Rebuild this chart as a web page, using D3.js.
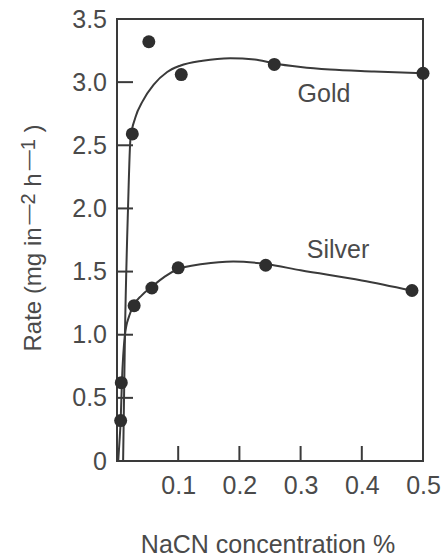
<!DOCTYPE html>
<html>
<head>
<meta charset="utf-8">
<script src="https://cdn.jsdelivr.net/npm/d3@7"></script>
<style>
  body { margin: 0; background: #fff; }
  text { font-family: "Liberation Sans", Arial, sans-serif; fill: #4a4a4a; }
</style>
</head>
<body>
<div id="chart"></div>
<script>
// measured points
let goldX = [0.025, 0.052, 0.105, 0.257, 0.5];
let goldY = [2.59, 3.32, 3.06, 3.14, 3.07];
let silverX = [0.006, 0.007, 0.028, 0.057, 0.10, 0.243, 0.482];
let silverY = [0.32, 0.62, 1.23, 1.37, 1.53, 1.55, 1.35];

// hand drawn smooth curves
let goldCurveX = [0.010, 0.013, 0.018, 0.022, 0.030, 0.042, 0.060, 0.082, 0.103, 0.140, 0.185, 0.225, 0.255, 0.300, 0.348, 0.420, 0.5];
let goldCurveY = [0.0, 1.0, 2.0, 2.55, 2.72, 2.85, 2.98, 3.08, 3.13, 3.17, 3.19, 3.18, 3.15, 3.12, 3.10, 3.085, 3.07];
let silverCurveX = [0.002, 0.004, 0.006, 0.008, 0.013, 0.020, 0.028, 0.040, 0.057, 0.078, 0.100, 0.140, 0.190, 0.243, 0.300, 0.400, 0.482];
let silverCurveY = [0.0, 0.15, 0.32, 0.62, 1.0, 1.15, 1.24, 1.31, 1.38, 1.46, 1.52, 1.56, 1.58, 1.56, 1.51, 1.43, 1.35];

let yTicks = [0, 0.5, 1.0, 1.5, 2.0, 2.5, 3.0, 3.5];
let yTickLabels = ["0", "0.5", "1.0", "1.5", "2.0", "2.5", "3.0", "3.5"];
let xTicks = [0.1, 0.2, 0.3, 0.4, 0.5];
let xTickLabels = ["0.1", "0.2", "0.3", "0.4", "0.5"];

let W = 446, H = 557;
let margin = ({top: 19, right: 23, bottom: 96, left: 117});
let width = W - margin.left - margin.right;
let height = H - margin.top - margin.bottom;
let ink = "#3a3a3a";

let svg = d3.select('#chart')
    .append('svg')
        .attr("width", W)
        .attr("height", H)
    .append('g')
        .attr("transform", "translate(" + margin.left + "," + margin.top + ")");

let x = d3.scaleLinear().domain([0, 0.5]).range([0, width]);
let y = d3.scaleLinear().domain([0, 3.5]).range([height, 0]);

//y axis labels (tick marks drawn inside the frame below)
let yaxis = svg.append('g')
    .call(d3.axisLeft(y).tickValues(yTicks).tickSize(0).tickPadding(10)
        .tickFormat((d, i) => yTickLabels[i]));
yaxis.select(".domain").remove();
yaxis.selectAll(".tick text").attr("font-size", 25).attr("fill", "#4a4a4a")
    .attr("font-family", "Liberation Sans, Arial, sans-serif");

//x axis labels
let xaxis = svg.append('g')
    .attr("transform", "translate(0," + height + ")")
    .call(d3.axisBottom(x).tickValues(xTicks).tickSize(0).tickPadding(15)
        .tickFormat((d, i) => xTickLabels[i]));
xaxis.select(".domain").remove();
xaxis.selectAll(".tick text").attr("font-size", 25).attr("fill", "#4a4a4a")
    .attr("font-family", "Liberation Sans, Arial, sans-serif");

//inward tick marks
svg.append("g").selectAll("line")
    .data(yTicks.slice(1, -1))
    .enter().append("line")
        .attr("x1", 0).attr("x2", 16)
        .attr("y1", d => y(d)).attr("y2", d => y(d))
        .attr("stroke", ink).attr("stroke-width", 2);
svg.append("g").selectAll("line")
    .data(xTicks.slice(0, -1))
    .enter().append("line")
        .attr("x1", d => x(d)).attr("x2", d => x(d))
        .attr("y1", height).attr("y2", height - 15)
        .attr("stroke", ink).attr("stroke-width", 2);

//frame
svg.append("rect")
    .attr("x", 0).attr("y", 0)
    .attr("width", width).attr("height", height)
    .attr("fill", "none").attr("stroke", ink).attr("stroke-width", 2);

//curves
let line = d3.line()
    .x(d => x(d[0]))
    .y(d => y(d[1]))
    .curve(d3.curveMonotoneX);

svg.append("path")
    .datum(d3.zip(goldCurveX, goldCurveY))
    .attr("d", line)
    .attr("fill", "none").attr("stroke", ink).attr("stroke-width", 2);
svg.append("path")
    .datum(d3.zip(silverCurveX, silverCurveY))
    .attr("d", line)
    .attr("fill", "none").attr("stroke", ink).attr("stroke-width", 2);

//dots
svg.append("g").selectAll("circle")
    .data(d3.zip(goldX, goldY).concat(d3.zip(silverX, silverY)))
    .enter().append("circle")
        .attr("cx", d => x(d[0]))
        .attr("cy", d => y(d[1]))
        .attr("r", 6.5)
        .attr("fill", "#2e2e2e");

//series labels
svg.append("text")
    .attr("x", x(0.295)).attr("y", y(2.84))
    .attr("font-size", 25)
    .text("Gold");
svg.append("text")
    .attr("x", x(0.31)).attr("y", y(1.61))
    .attr("font-size", 25)
    .text("Silver");

//axis titles
svg.append("text")
    .attr("x", width / 2 - 2)
    .attr("y", height + 92)
    .attr("text-anchor", "middle")
    .attr("font-size", 25)
    .text("NaCN concentration %");

let yt = svg.append("text")
    .attr("transform", "translate(" + (41 - margin.left) + "," + (height / 2 - 2) + ") rotate(-90)")
    .attr("text-anchor", "middle")
    .attr("font-size", 24);
yt.append("tspan").text("Rate (mg in");
yt.append("tspan").attr("dx", 3).attr("dy", -6).attr("font-size", 20).text("\u20142");
yt.append("tspan").attr("dy", 6).text(" h");
yt.append("tspan").attr("dx", 3).attr("dy", -6).attr("font-size", 20).text("\u20141");
yt.append("tspan").attr("dy", 6).text(" )");
</script>
</body>
</html>
